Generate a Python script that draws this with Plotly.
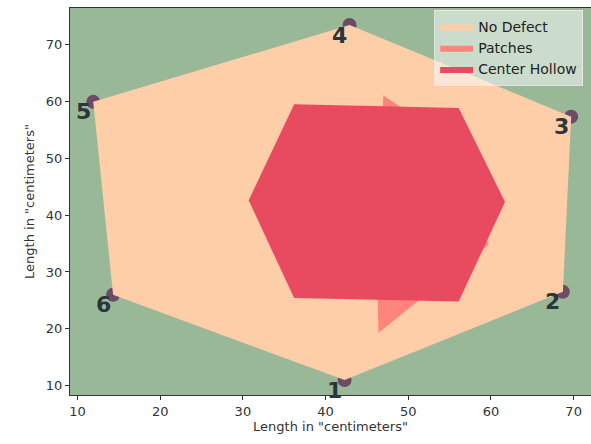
import plotly.graph_objects as go

# Sample points (numbered corners)
point_labels = ["1", "2", "3", "4", "5", "6"]
point_x = [42.3, 68.7, 69.7, 42.9, 11.9, 14.3]
point_y = [11.0, 26.5, 57.3, 73.4, 59.9, 26.0]

# Center hollow region
hollow_x = [36.2, 56.1, 61.7, 56.1, 36.2, 30.7]
hollow_y = [59.5, 58.8, 42.3, 24.8, 25.4, 42.6]

# Patches region
patch_x = [47.0, 56.3, 59.7, 46.4, 46.0]
patch_y = [61.0, 51.9, 34.8, 19.3, 40.0]

GREEN = "#99B898"
PEACH = "#FECEA8"
SALMON = "#FF847C"
CRIMSON = "#E84A5F"
DARK = "#2A363B"

fig = go.Figure()

fig.add_trace(go.Scatter(
    x=point_x, y=point_y, mode="markers",
    marker=dict(size=14, color="#6d4b64", line=dict(width=0)),
    showlegend=False, hoverinfo="skip"))

fig.add_trace(go.Scatter(
    x=point_x + [point_x[0]], y=point_y + [point_y[0]],
    mode="lines", fill="toself", fillcolor=PEACH,
    line=dict(width=0, color=PEACH), name="No Defect"))

fig.add_trace(go.Scatter(
    x=patch_x + [patch_x[0]], y=patch_y + [patch_y[0]],
    mode="lines", fill="toself", fillcolor=SALMON,
    line=dict(width=0, color=SALMON), name="Patches"))

fig.add_trace(go.Scatter(
    x=hollow_x + [hollow_x[0]], y=hollow_y + [hollow_y[0]],
    mode="lines", fill="toself", fillcolor=CRIMSON,
    line=dict(width=0, color=CRIMSON), name="Center Hollow"))

for lbl, px, py in zip(point_labels, point_x, point_y):
    fig.add_annotation(x=px, y=py, text="<b>" + lbl + "</b>", showarrow=False,
                       xshift=-10, yshift=-10,
                       font=dict(family="DejaVu Sans", size=22, color=DARK))

axis_common = dict(
    showgrid=False, zeroline=False, showline=True, linecolor="#333333",
    linewidth=1, mirror=True, ticks="outside", ticklen=4, tickwidth=1,
    tickcolor="#333333", tickfont=dict(family="DejaVu Sans", size=13, color="#333333"),
    dtick=10, automargin=False)

fig.update_xaxes(range=[9.09, 72.1], tick0=10,
                 title=dict(text='Length in "centimeters"', standoff=4,
                            font=dict(family="DejaVu Sans", size=13, color="#333333")),
                 **axis_common)
fig.update_yaxes(range=[8.37, 76.4], tick0=10,
                 title=dict(text='Length in "centimeters"', standoff=8,
                            font=dict(family="DejaVu Sans", size=13, color="#333333")),
                 **axis_common)

fig.update_layout(
    width=591, height=444,
    margin=dict(l=70, r=0, t=8, b=49, autoexpand=False),
    paper_bgcolor="white", plot_bgcolor=GREEN,
    font=dict(family="DejaVu Sans"),
    legend=dict(x=0.985, y=0.995, xanchor="right", yanchor="top",
                bgcolor="rgba(255,255,255,0.5)", bordercolor="rgba(235,240,235,0.8)",
                borderwidth=1, font=dict(family="DejaVu Sans", size=14, color="#222222"),
                itemwidth=33, tracegroupgap=0),
)

fig.write_html(
    "out.html",
    config={"displayModeBar": False},
    post_script="document.body.style.margin='0';document.body.style.overflow='hidden';",
)
